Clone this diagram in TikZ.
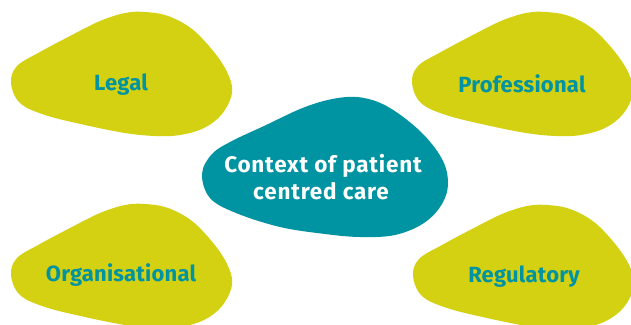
\documentclass[tikz,border=0pt]{standalone}
\usepackage{fontspec}
\setmainfont{Fira Sans}
\newfontfamily\labelfont{Fira Sans}[LetterSpace=1]
\newfontfamily\centrefont{Fira Sans}[LetterSpace=3.5]
\definecolor{blobyellow}{HTML}{D3D111}
\definecolor{blobteal}{HTML}{0093A1}
\newcommand\yblobpath{plot[smooth cycle, tension=0.6] coordinates {(11,83) (17,66) (40,52) (70,36) (100,21) (125,13) (145,12) (168,16) (192,29) (214,52) (228,74) (232,93) (222,114) (204,128) (180,135) (155,136) (125,133) (85,125) (45,115) (20,103)}}
\newcommand\tblobpath{plot[smooth cycle, tension=0.6] coordinates {(202,174) (212,154) (232,141) (264,126) (305,107) (338,98) (364,98) (390,108) (421,132) (442,159) (448,183) (442,204) (424,223) (395,235) (360,237) (325,234) (280,227) (236,213) (210,198)}}
\begin{document}
\begin{tikzpicture}[x=1pt,y=-1pt,
  lbl/.style={font=\labelfont\fontsize{22}{26}\selectfont\bfseries, text=blobteal, inner sep=0pt, anchor=base},
  clbl/.style={font=\centrefont\fontsize{22.5}{26}\selectfont\bfseries, text=white, inner sep=0pt, anchor=base}]
\useasboundingbox (0,0) rectangle (631,324);
\clip (0,0) rectangle (631,324);
\fill[blobyellow] \yblobpath;
\fill[blobyellow, shift={(401,0)}] \yblobpath;
\fill[blobyellow, shift={(0,192)}] \yblobpath;
\fill[blobyellow, shift={(402,193)}] \yblobpath;
\fill[blobteal] \tblobpath;
\node[lbl] (legal) at (121,90) {Legal};
\node[lbl] (prof) at (522,92) {Professional};
\node[lbl] (org) at (121,281) {Organisational};
\node[lbl] (reg) at (524,282) {Regulatory};
\node[clbl] (ctxa) at (323,172) {Context of patient};
\node[clbl] (ctxb) at (321,199) {centred care};
\end{tikzpicture}
\end{document}
